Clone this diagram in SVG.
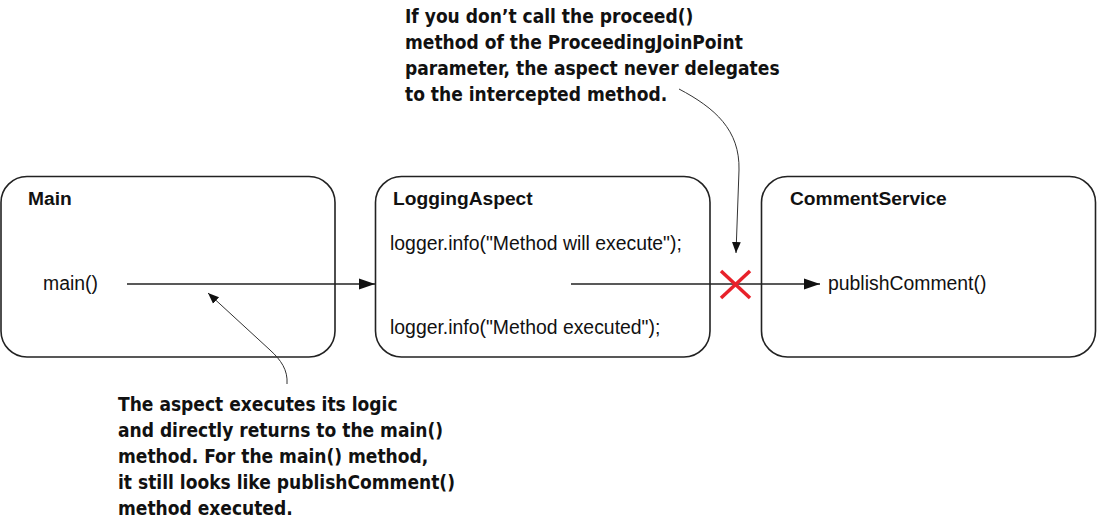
<svg xmlns="http://www.w3.org/2000/svg" width="1097" height="521" viewBox="0 0 1097 521">
<defs>
<style>
.box{fill:#fff;stroke:#222;stroke-width:1.6}
.title{font-family:"Liberation Sans",Arial,sans-serif;font-weight:bold;font-size:19.2px;fill:#111}
.code{font-family:"Liberation Sans",Arial,sans-serif;font-size:19.4px;fill:#111}
.note{font-family:"DejaVu Sans Condensed","DejaVu Sans",sans-serif;font-weight:bold;font-size:19px;fill:#111}
.conn{fill:none;stroke:#222;stroke-width:1.6}
.lead{fill:none;stroke:#333;stroke-width:1}
</style>
<marker id="ah" viewBox="0 0 10 10" refX="10" refY="5" markerWidth="16" markerHeight="16" markerUnits="userSpaceOnUse" orient="auto">
<path d="M0,1.5 L10,5 L0,8.5 z" fill="#111"/>
</marker>
<marker id="ahs" viewBox="0 0 10 10" refX="10" refY="5" markerWidth="11" markerHeight="11" markerUnits="userSpaceOnUse" orient="auto">
<path d="M0,1 L10,5 L0,9 z" fill="#111"/>
</marker>
</defs>
<rect width="1097" height="521" fill="#fff"/>
<g id="main">
<rect class="box" x="1" y="176.5" width="334" height="180.5" rx="26"/>
<text class="title" x="28" y="205">Main</text>
<text class="code" x="43" y="290">main()</text>
</g>
<g id="loggingAspect">
<rect class="box" x="375.5" y="176.5" width="334.5" height="180.5" rx="26"/>
<text class="title" x="393" y="205">LoggingAspect</text>
<text class="code" x="390" y="250">logger.info("Method will execute");</text>
<text class="code" x="390" y="334">logger.info("Method executed");</text>
</g>
<g id="commentService">
<rect class="box" x="761.5" y="176.5" width="334" height="180.5" rx="26"/>
<text class="title" x="790" y="205">CommentService</text>
<text class="code" x="828" y="290">publishComment()</text>
</g>
<g id="connectors">
<line class="conn" x1="127" y1="284" x2="375" y2="284" marker-end="url(#ah)"/>
<line class="conn" x1="571" y1="284" x2="820" y2="284" marker-end="url(#ah)"/>
<path class="lead" d="M679,89 C715,108 740,130 739,170 L736,253" marker-end="url(#ahs)"/>
<path class="lead" d="M287,384 C288,370 281,360 270,350 L208,293" marker-end="url(#ahs)"/>
</g>
<g id="cross" stroke="#e8212a" stroke-width="3.5" stroke-linecap="butt">
<line x1="721" y1="271" x2="750" y2="298"/>
<line x1="750" y1="271" x2="721" y2="298"/>
</g>
<g id="noteTop">
<text class="note" x="405" y="23">If you don’t call the proceed()</text>
<text class="note" x="405" y="49">method of the ProceedingJoinPoint</text>
<text class="note" x="405" y="75">parameter, the aspect never delegates</text>
<text class="note" x="405" y="101">to the intercepted method.</text>
</g>
<g id="noteBottom">
<text class="note" x="118" y="411">The aspect executes its logic</text>
<text class="note" x="118" y="437">and directly returns to the main()</text>
<text class="note" x="118" y="463">method. For the main() method,</text>
<text class="note" x="118" y="489">it still looks like publishComment()</text>
<text class="note" x="118" y="515">method executed.</text>
</g>
</svg>
